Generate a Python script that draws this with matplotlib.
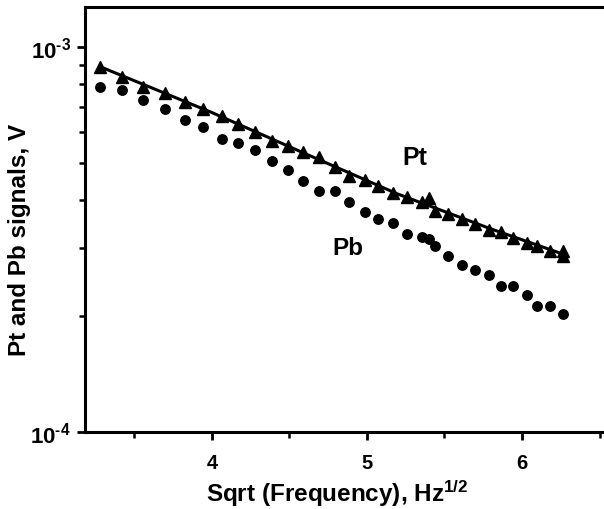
import matplotlib

matplotlib.use("Agg")
import matplotlib.pyplot as plt
from matplotlib.ticker import FixedLocator, FixedFormatter, NullFormatter

plt.rcParams["font.family"] = ["Liberation Sans", "DejaVu Sans"]
plt.rcParams["font.weight"] = "bold"
plt.rcParams["mathtext.fontset"] = "custom"
plt.rcParams["mathtext.rm"] = "Liberation Sans:bold"
plt.rcParams["mathtext.bf"] = "Liberation Sans:bold"
plt.rcParams["mathtext.it"] = "Liberation Sans:bold"

# sqrt(frequency), Hz^1/2
sqrt_f = [3.277, 3.417, 3.557, 3.697, 3.826, 3.944, 4.063, 4.170, 4.277, 4.387,
          4.492, 4.589, 4.692, 4.794, 4.886, 4.987, 5.073, 5.168, 5.258, 5.353,
          5.400, 5.439, 5.525, 5.616, 5.697, 5.790, 5.865, 5.944, 6.030, 6.100,
          6.181, 6.263]

pt_signal = [8.86e-4, 8.37e-4, 7.90e-4, 7.58e-4, 7.21e-4, 6.90e-4, 6.63e-4, 6.31e-4,
             6.00e-4, 5.71e-4, 5.52e-4, 5.35e-4, 5.17e-4, 4.87e-4, 4.63e-4, 4.51e-4,
             4.35e-4, 4.19e-4, 4.07e-4, 3.95e-4, 4.05e-4, 3.76e-4, 3.68e-4, 3.57e-4,
             3.47e-4, 3.35e-4, 3.30e-4, 3.19e-4, 3.10e-4, 3.04e-4, 2.96e-4, 2.86e-4]
# repeated reading at the last frequency
pt_extra_x = [6.263]
pt_extra_y = [2.96e-4]

pb_signal = [7.90e-4, 7.73e-4, 7.30e-4, 6.90e-4, 6.47e-4, 6.21e-4, 5.77e-4, 5.62e-4,
             5.40e-4, 5.07e-4, 4.80e-4, 4.50e-4, 4.23e-4, 4.23e-4, 3.95e-4, 3.72e-4,
             3.58e-4, 3.49e-4, 3.27e-4, 3.22e-4, 3.18e-4, 3.04e-4, 2.86e-4, 2.72e-4,
             2.63e-4, 2.56e-4, 2.39e-4, 2.39e-4, 2.27e-4, 2.13e-4, 2.12e-4, 2.02e-4]

# fitted curve through the Pt points
fit_x = [3.277, 4.0, 4.6, 5.2, 5.8, 6.263]
fit_y = [8.9e-4, 6.76e-4, 5.29e-4, 4.15e-4, 3.37e-4, 2.90e-4]

fig = plt.figure(figsize=(6.04, 5.10), dpi=100)
ax = fig.add_axes([0.1407, 0.151, 0.8593, 0.833])

ax.plot(fit_x, fit_y, color="black", linewidth=2.2, zorder=2)
ax.plot(sqrt_f, pt_signal, linestyle="none", marker="^", markersize=8.5,
        color="black", zorder=3)
ax.plot(pt_extra_x, pt_extra_y, linestyle="none", marker="^", markersize=8.5,
        color="black", zorder=3)
ax.plot(sqrt_f, pb_signal, linestyle="none", marker="o", markersize=6.8,
        color="black", zorder=3)

ax.set_yscale("log")
ax.set_xlim(3.181, 6.529)
ax.set_ylim(1e-4, 1.27e-3)

ax.xaxis.set_major_locator(FixedLocator([4, 5, 6]))
ax.xaxis.set_minor_locator(FixedLocator([3.5, 4.5, 5.5, 6.5]))
ax.yaxis.set_major_locator(FixedLocator([1e-4, 1e-3]))
ax.yaxis.set_major_formatter(FixedFormatter([r"$\mathbf{10}^{\text{-4}}$",
                                             r"$\mathbf{10}^{\text{-3}}$"]))
ax.yaxis.set_minor_locator(FixedLocator([k * 1e-4 for k in range(2, 10)]))
ax.yaxis.set_minor_formatter(NullFormatter())

ax.tick_params(axis="both", which="major", direction="out", length=6, width=2)
ax.tick_params(axis="x", which="major", labelsize=14.5, pad=9)
ax.tick_params(axis="y", which="major", labelsize=16, pad=4)
ax.tick_params(axis="both", which="minor", direction="out", length=4, width=1.8)
ax.tick_params(top=False, right=False, which="both")

for side in ("left", "bottom", "top"):
    ax.spines[side].set_linewidth(2.2)
ax.spines["right"].set_visible(False)

ax.set_xlabel(r"Sqrt (Frequency), Hz$^{\mathbf{1/2}}$", fontsize=17.5, fontweight="bold")
ax.set_ylabel("Pt and Pb signals, V", fontsize=17.5, fontweight="bold")
ax.xaxis.set_label_coords(0.486, -0.106)
ax.yaxis.set_label_coords(-0.104, 0.454)

ax.text(5.310, 5.19e-4, "Pt", fontsize=18, fontweight="bold", ha="center", va="center")
ax.text(4.874, 3.02e-4, "Pb", fontsize=17.5, fontweight="bold", ha="center", va="center")

fig.savefig("out.png", dpi=100)
